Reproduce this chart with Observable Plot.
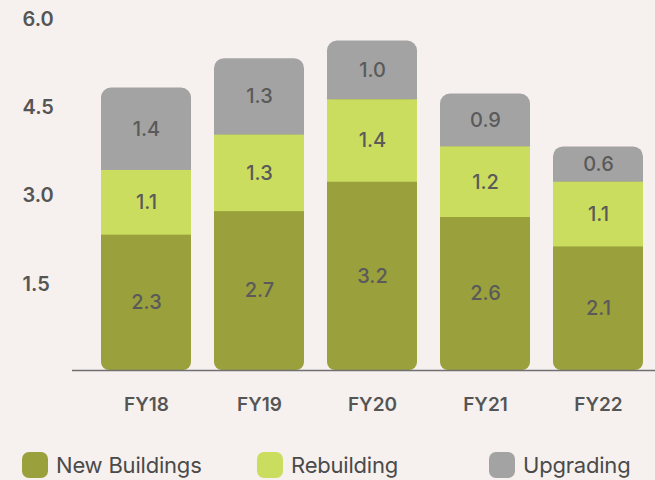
<!DOCTYPE html>
<html><head><meta charset="utf-8">
<script src="https://cdn.jsdelivr.net/npm/d3@7"></script>
<script src="https://cdn.jsdelivr.net/npm/@observablehq/plot@0.6"></script>
<style>
html,body{margin:0;background:#f6f1ef;}
#wrap{position:relative;width:655px;height:480px;font-family:Inter,sans-serif;overflow:hidden}
.leg{position:absolute;top:452px;height:26px;display:flex;align-items:center;font-size:22px;color:#4a4a4a;white-space:nowrap;letter-spacing:-0.2px}
.sw{width:26px;height:26px;border-radius:7px;margin-right:8px;flex:none}
</style></head><body><div id="wrap"><div id="chart"></div></div>
<script>
const years = ["FY18","FY19","FY20","FY21","FY22"];
const newBuildings = [2.3, 2.7, 3.2, 2.6, 2.1];
const rebuilding = [1.1, 1.3, 1.4, 1.2, 1.1];
const upgrading = [1.4, 1.3, 1.0, 0.9, 0.6];
const yTicks = [1.5, 3.0, 4.5, 6.0];
const seriesNames = ["New Buildings", "Rebuilding", "Upgrading"];
const seriesColors = ["#9aa03c", "#cbdd5f", "#a3a3a3"];
const legendLeft = [22, 257, 489];

const rows = years.map((fy, i) => {
  const a = newBuildings[i], b = rebuilding[i], c = upgrading[i];
  return {fy, a, b, c, c1: a, c2: a + b, t: a + b + c};
});
const labelColor = "#5a5a5a";

const chart = Plot.plot({
  width: 655, height: 440,
  marginLeft: 72, marginRight: 0, marginTop: 17, marginBottom: 70,
  style: {background: "transparent", fontFamily: "Inter, sans-serif"},
  x: {domain: years, range: [88.7, 655], paddingInner: 0.2, paddingOuter: 0.1, axis: null},
  y: {domain: [0, 6], axis: null},
  marks: [
    Plot.barY(rows, {x: "fy", y1: "c1", y2: "t", fill: seriesColors[2], rx: 10}),
    Plot.barY(rows, {x: "fy", y1: 0, y2: "c2", fill: seriesColors[0], rx: 8}),
    Plot.barY(rows, {x: "fy", y1: "c1", y2: "c2", fill: seriesColors[1]}),
    Plot.text(rows, {x: "fy", y: d => d.a / 2, text: d => d.a.toFixed(1), fill: labelColor, fontSize: 20, fontWeight: 500}),
    Plot.text(rows, {x: "fy", y: d => d.c1 + d.b / 2, text: d => d.b.toFixed(1), fill: labelColor, fontSize: 20, fontWeight: 500}),
    Plot.text(rows, {x: "fy", y: d => d.c2 + d.c / 2, text: d => d.c.toFixed(1), fill: labelColor, fontSize: 20, fontWeight: 500}),
    Plot.ruleY([0], {stroke: "#707070", strokeWidth: 1.5}),
    Plot.text(years, {x: d => d, text: d => d, frameAnchor: "bottom", dy: 40, fill: "#555", fontSize: 19, fontWeight: 600}),
    Plot.text(yTicks, {y: d => d, text: d => d.toFixed(1), frameAnchor: "left", textAnchor: "start", dx: -50, dy: 2, fill: "#555", fontSize: 20, fontWeight: 600})
  ]
});
document.getElementById("chart").appendChild(chart);

const wrap = document.getElementById("wrap");
seriesNames.forEach((name, i) => {
  const d = document.createElement("div");
  d.className = "leg";
  d.style.left = legendLeft[i] + "px";
  const sw = document.createElement("span");
  sw.className = "sw";
  sw.style.background = seriesColors[i];
  const t = document.createElement("span");
  t.textContent = name;
  d.appendChild(sw); d.appendChild(t);
  wrap.appendChild(d);
});
</script></body></html>
